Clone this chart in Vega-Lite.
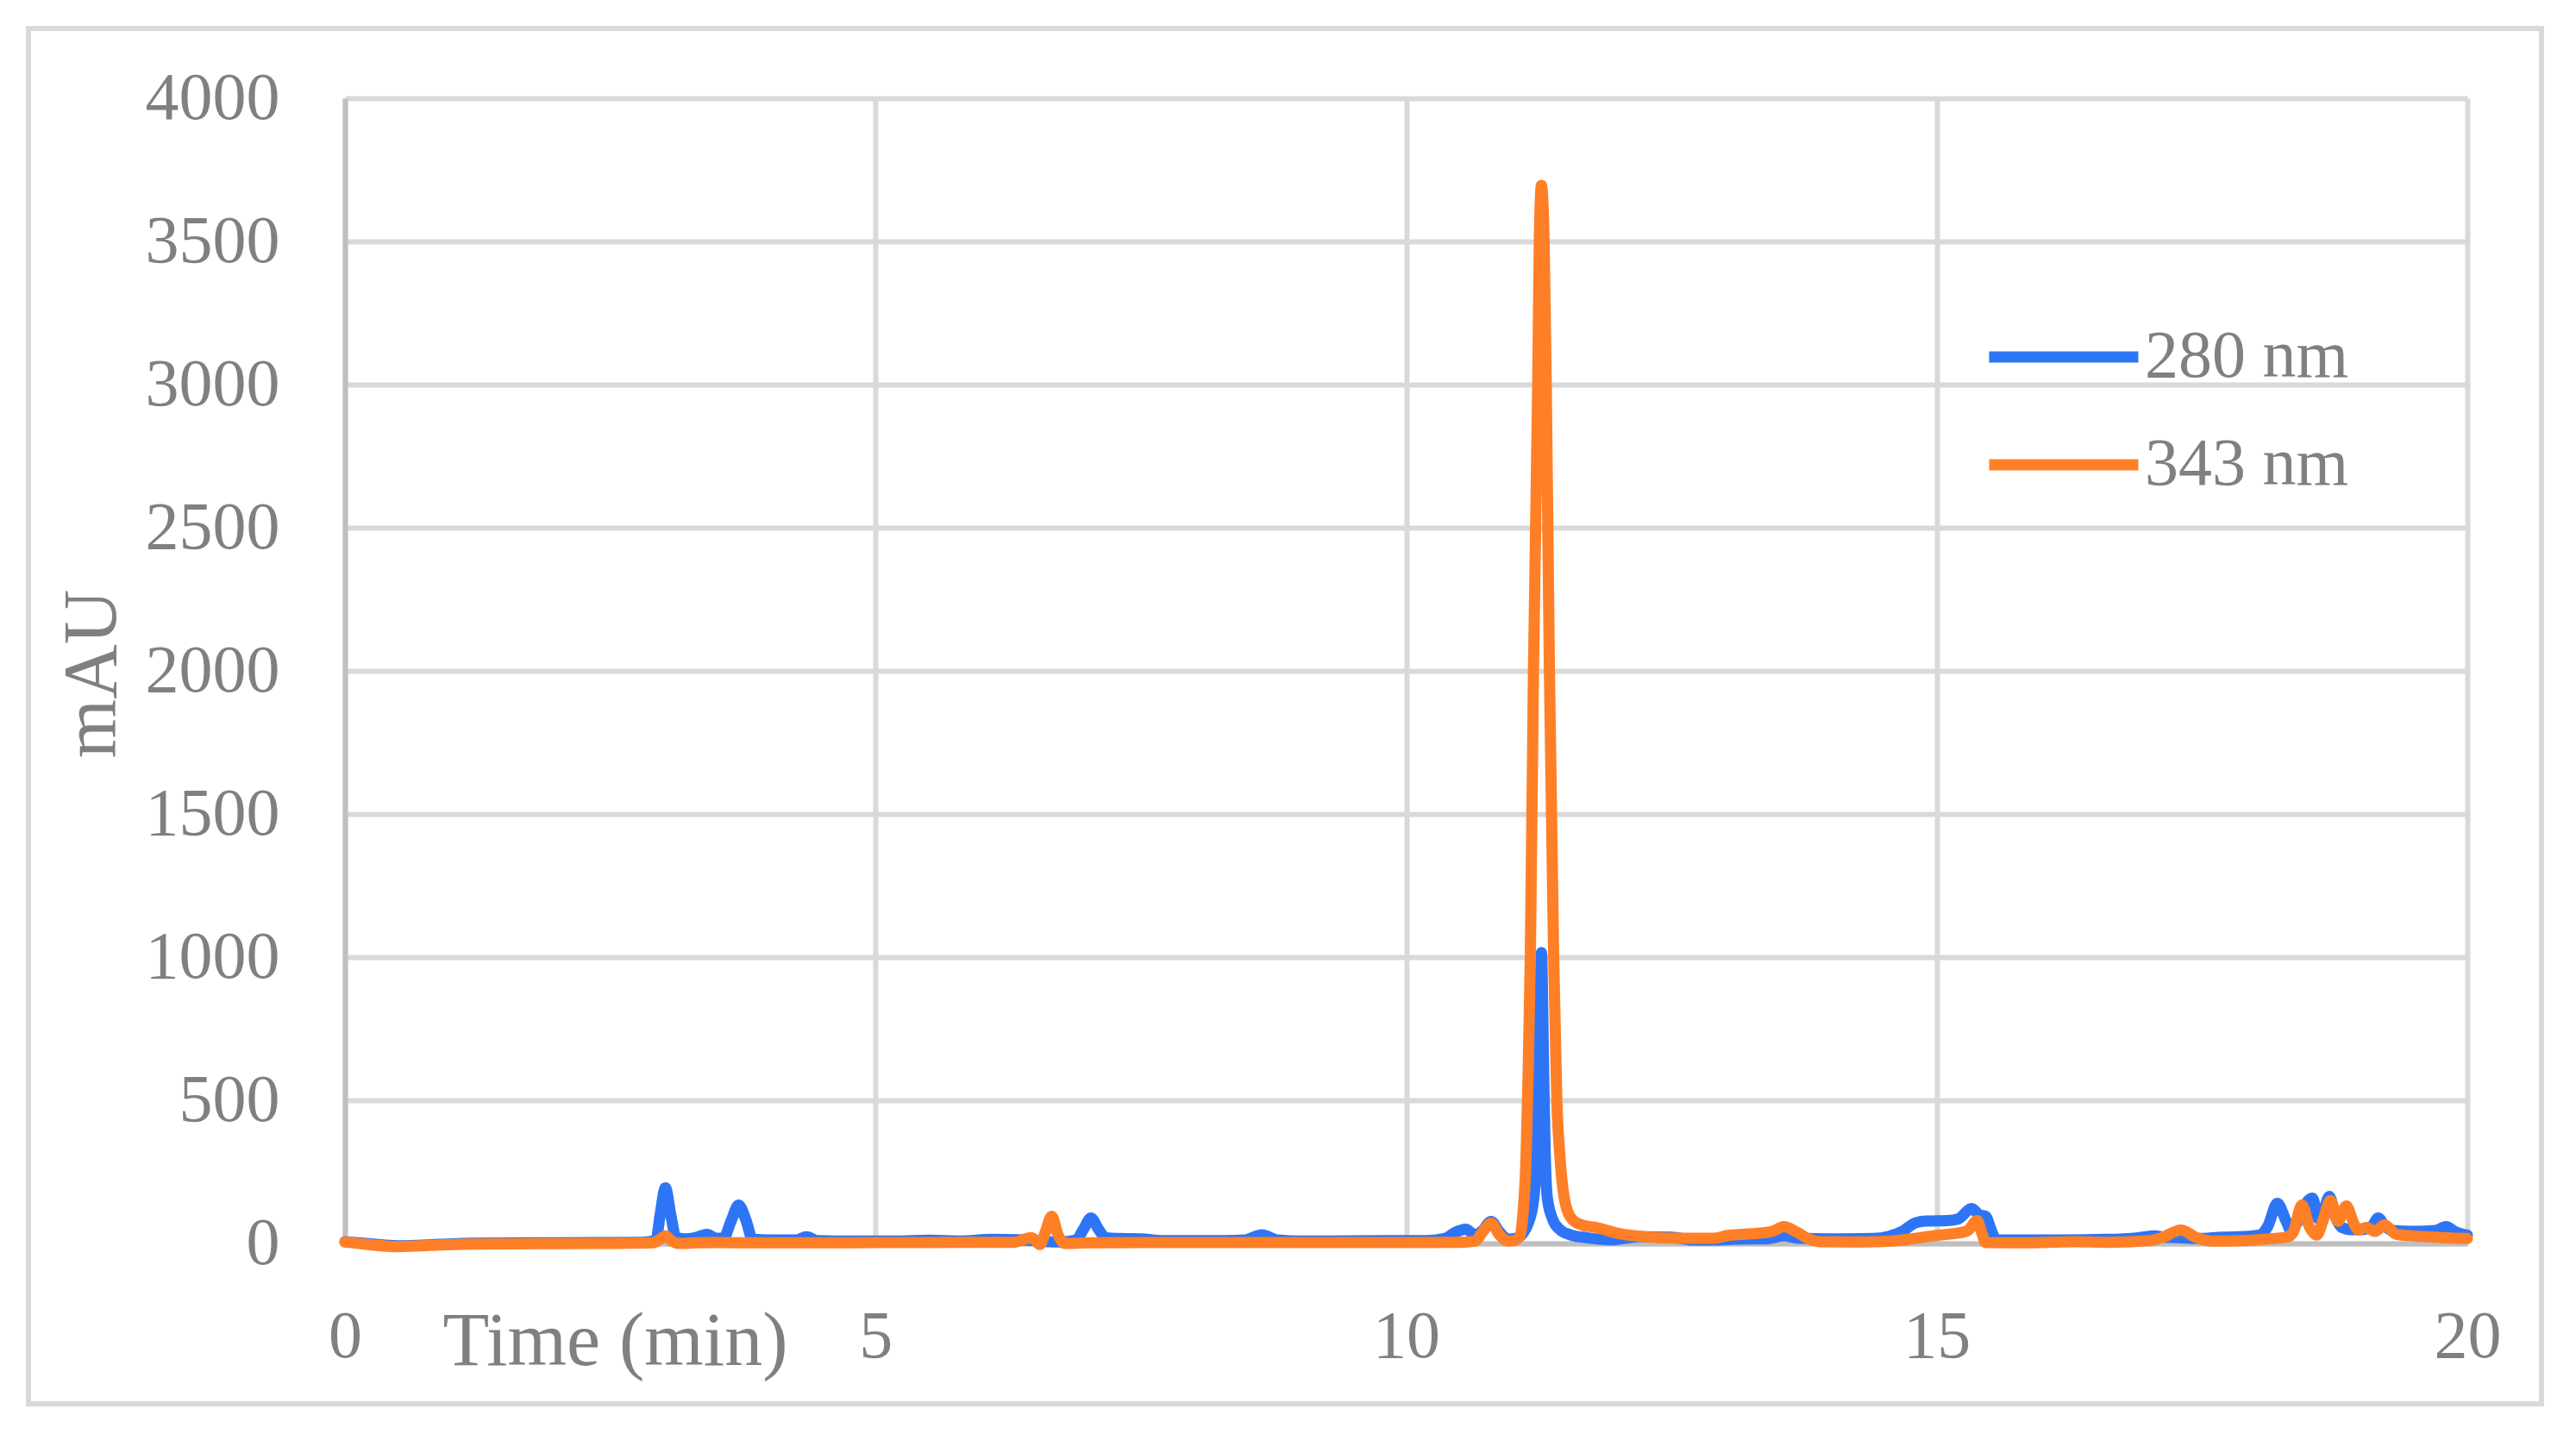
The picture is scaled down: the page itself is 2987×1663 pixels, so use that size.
{
  "$schema": "https://vega.github.io/schema/vega-lite/v6.json",
  "autosize": "none",
  "width": 2461,
  "height": 1328,
  "padding": {"left": 400, "top": 114, "right": 126, "bottom": 221},
  "background": "white",
  "config": {
    "view": {"stroke": null},
    "font": "Liberation Serif",
    "axis": {
      "grid": true,
      "gridColor": "#d9d9d9",
      "gridWidth": 6,
      "domainColor": "#bfbfbf",
      "domainWidth": 6,
      "ticks": false,
      "tickSize": 0,
      "format": "d",
      "labelFont": "Liberation Serif",
      "labelFontSize": 78,
      "labelColor": "#808080",
      "titleFont": "Liberation Serif",
      "titleFontSize": 88,
      "titleFontWeight": "normal",
      "titleColor": "#808080",
      "labelFlush": false,
      "labelOverlap": false
    }
  },
  "datasets": {
    "s280": [
      {"t":0,"v":6,"s":"280 nm"},{"t":0.2,"v":0,"s":"280 nm"},{"t":0.5,"v":-8,"s":"280 nm"},{"t":0.9,"v":-3,"s":"280 nm"},
      {"t":1.2,"v":1,"s":"280 nm"},{"t":1.8,"v":2,"s":"280 nm"},{"t":2.4,"v":3,"s":"280 nm"},{"t":2.8,"v":4,"s":"280 nm"},
      {"t":2.93,"v":10,"s":"280 nm"},{"t":2.97,"v":100,"s":"280 nm"},{"t":3.02,"v":194,"s":"280 nm"},{"t":3.07,"v":100,"s":"280 nm"},
      {"t":3.12,"v":20,"s":"280 nm"},{"t":3.2,"v":16,"s":"280 nm"},{"t":3.3,"v":20,"s":"280 nm"},{"t":3.41,"v":32,"s":"280 nm"},
      {"t":3.5,"v":18,"s":"280 nm"},{"t":3.57,"v":20,"s":"280 nm"},{"t":3.64,"v":80,"s":"280 nm"},{"t":3.71,"v":134,"s":"280 nm"},
      {"t":3.78,"v":80,"s":"280 nm"},{"t":3.84,"v":15,"s":"280 nm"},{"t":4.0,"v":12,"s":"280 nm"},{"t":4.25,"v":12,"s":"280 nm"},
      {"t":4.35,"v":23,"s":"280 nm"},{"t":4.45,"v":10,"s":"280 nm"},{"t":4.8,"v":8,"s":"280 nm"},{"t":5.2,"v":8,"s":"280 nm"},
      {"t":5.51,"v":11,"s":"280 nm"},{"t":5.8,"v":8,"s":"280 nm"},{"t":6.1,"v":14,"s":"280 nm"},{"t":6.4,"v":12,"s":"280 nm"},
      {"t":6.55,"v":8,"s":"280 nm"},{"t":6.75,"v":5,"s":"280 nm"},{"t":6.89,"v":12,"s":"280 nm"},{"t":6.96,"v":50,"s":"280 nm"},
      {"t":7.03,"v":89,"s":"280 nm"},{"t":7.1,"v":50,"s":"280 nm"},{"t":7.17,"v":20,"s":"280 nm"},{"t":7.3,"v":17,"s":"280 nm"},
      {"t":7.5,"v":16,"s":"280 nm"},{"t":7.7,"v":10,"s":"280 nm"},{"t":8.0,"v":10,"s":"280 nm"},{"t":8.3,"v":10,"s":"280 nm"},
      {"t":8.48,"v":12,"s":"280 nm"},{"t":8.64,"v":30,"s":"280 nm"},{"t":8.79,"v":12,"s":"280 nm"},{"t":9.0,"v":8,"s":"280 nm"},
      {"t":9.5,"v":9,"s":"280 nm"},{"t":9.9,"v":10,"s":"280 nm"},{"t":10.2,"v":10,"s":"280 nm"},{"t":10.37,"v":18,"s":"280 nm"},
      {"t":10.47,"v":40,"s":"280 nm"},{"t":10.56,"v":50,"s":"280 nm"},{"t":10.65,"v":30,"s":"280 nm"},{"t":10.72,"v":45,"s":"280 nm"},
      {"t":10.8,"v":77,"s":"280 nm"},{"t":10.88,"v":40,"s":"280 nm"},{"t":10.96,"v":15,"s":"280 nm"},{"t":11.05,"v":20,"s":"280 nm"},
      {"t":11.1,"v":35,"s":"280 nm"},{"t":11.15,"v":70,"s":"280 nm"},{"t":11.2,"v":150,"s":"280 nm"},{"t":11.23,"v":320,"s":"280 nm"},
      {"t":11.25,"v":620,"s":"280 nm"},{"t":11.275,"v":1016,"s":"280 nm"},{"t":11.295,"v":620,"s":"280 nm"},{"t":11.31,"v":320,"s":"280 nm"},
      {"t":11.33,"v":160,"s":"280 nm"},{"t":11.38,"v":85,"s":"280 nm"},{"t":11.45,"v":48,"s":"280 nm"},{"t":11.55,"v":30,"s":"280 nm"},
      {"t":11.7,"v":20,"s":"280 nm"},{"t":11.93,"v":13,"s":"280 nm"},{"t":12.2,"v":23,"s":"280 nm"},{"t":12.5,"v":22,"s":"280 nm"},
      {"t":12.7,"v":12,"s":"280 nm"},{"t":12.9,"v":12,"s":"280 nm"},{"t":13.1,"v":15,"s":"280 nm"},{"t":13.4,"v":16,"s":"280 nm"},
      {"t":13.56,"v":26,"s":"280 nm"},{"t":13.7,"v":18,"s":"280 nm"},{"t":14.0,"v":16,"s":"280 nm"},{"t":14.4,"v":17,"s":"280 nm"},
      {"t":14.55,"v":25,"s":"280 nm"},{"t":14.67,"v":41,"s":"280 nm"},{"t":14.8,"v":72,"s":"280 nm"},{"t":14.9,"v":78,"s":"280 nm"},
      {"t":15.1,"v":80,"s":"280 nm"},{"t":15.2,"v":85,"s":"280 nm"},{"t":15.33,"v":122,"s":"280 nm"},{"t":15.4,"v":100,"s":"280 nm"},
      {"t":15.46,"v":95,"s":"280 nm"},{"t":15.52,"v":40,"s":"280 nm"},{"t":15.56,"v":12,"s":"280 nm"},{"t":15.8,"v":12,"s":"280 nm"},
      {"t":16.2,"v":12,"s":"280 nm"},{"t":16.6,"v":14,"s":"280 nm"},{"t":16.9,"v":20,"s":"280 nm"},{"t":17.05,"v":26,"s":"280 nm"},
      {"t":17.15,"v":22,"s":"280 nm"},{"t":17.3,"v":20,"s":"280 nm"},{"t":17.45,"v":17,"s":"280 nm"},{"t":17.7,"v":22,"s":"280 nm"},
      {"t":17.9,"v":24,"s":"280 nm"},{"t":18.05,"v":30,"s":"280 nm"},{"t":18.12,"v":60,"s":"280 nm"},{"t":18.21,"v":140,"s":"280 nm"},
      {"t":18.29,"v":80,"s":"280 nm"},{"t":18.34,"v":45,"s":"280 nm"},{"t":18.42,"v":90,"s":"280 nm"},{"t":18.48,"v":140,"s":"280 nm"},
      {"t":18.54,"v":158,"s":"280 nm"},{"t":18.6,"v":85,"s":"280 nm"},{"t":18.65,"v":120,"s":"280 nm"},{"t":18.7,"v":164,"s":"280 nm"},
      {"t":18.76,"v":90,"s":"280 nm"},{"t":18.82,"v":55,"s":"280 nm"},{"t":18.9,"v":48,"s":"280 nm"},{"t":19.0,"v":48,"s":"280 nm"},
      {"t":19.1,"v":60,"s":"280 nm"},{"t":19.16,"v":89,"s":"280 nm"},{"t":19.22,"v":62,"s":"280 nm"},{"t":19.3,"v":45,"s":"280 nm"},
      {"t":19.5,"v":42,"s":"280 nm"},{"t":19.7,"v":45,"s":"280 nm"},{"t":19.8,"v":59,"s":"280 nm"},{"t":19.88,"v":42,"s":"280 nm"},
      {"t":20.0,"v":29,"s":"280 nm"}
    ],
    "s343": [
      {"t":0,"v":5,"s":"343 nm"},{"t":0.2,"v":-3,"s":"343 nm"},{"t":0.5,"v":-11,"s":"343 nm"},{"t":0.9,"v":-5,"s":"343 nm"},
      {"t":1.2,"v":-2,"s":"343 nm"},{"t":1.8,"v":-1,"s":"343 nm"},{"t":2.4,"v":0,"s":"343 nm"},{"t":2.9,"v":2,"s":"343 nm"},
      {"t":2.97,"v":15,"s":"343 nm"},{"t":3.02,"v":26,"s":"343 nm"},{"t":3.08,"v":8,"s":"343 nm"},{"t":3.15,"v":0,"s":"343 nm"},
      {"t":3.3,"v":2,"s":"343 nm"},{"t":3.5,"v":3,"s":"343 nm"},{"t":4.0,"v":2,"s":"343 nm"},{"t":4.5,"v":2,"s":"343 nm"},
      {"t":5.0,"v":3,"s":"343 nm"},{"t":5.5,"v":3,"s":"343 nm"},{"t":6.0,"v":4,"s":"343 nm"},{"t":6.3,"v":4,"s":"343 nm"},
      {"t":6.47,"v":20,"s":"343 nm"},{"t":6.55,"v":-4,"s":"343 nm"},{"t":6.6,"v":40,"s":"343 nm"},{"t":6.66,"v":95,"s":"343 nm"},
      {"t":6.72,"v":30,"s":"343 nm"},{"t":6.78,"v":0,"s":"343 nm"},{"t":7.0,"v":2,"s":"343 nm"},{"t":7.5,"v":3,"s":"343 nm"},
      {"t":8.0,"v":3,"s":"343 nm"},{"t":8.5,"v":3,"s":"343 nm"},{"t":9.0,"v":3,"s":"343 nm"},{"t":9.5,"v":3,"s":"343 nm"},
      {"t":10.0,"v":3,"s":"343 nm"},{"t":10.5,"v":4,"s":"343 nm"},{"t":10.65,"v":8,"s":"343 nm"},{"t":10.72,"v":40,"s":"343 nm"},
      {"t":10.8,"v":71,"s":"343 nm"},{"t":10.88,"v":30,"s":"343 nm"},{"t":10.96,"v":8,"s":"343 nm"},{"t":11.02,"v":10,"s":"343 nm"},
      {"t":11.07,"v":25,"s":"343 nm"},{"t":11.1,"v":100,"s":"343 nm"},{"t":11.13,"v":300,"s":"343 nm"},{"t":11.15,"v":600,"s":"343 nm"},
      {"t":11.17,"v":1000,"s":"343 nm"},{"t":11.2,"v":2000,"s":"343 nm"},{"t":11.24,"v":3000,"s":"343 nm"},{"t":11.255,"v":3500,"s":"343 nm"},
      {"t":11.275,"v":3696,"s":"343 nm"},{"t":11.3,"v":3500,"s":"343 nm"},{"t":11.32,"v":3000,"s":"343 nm"},{"t":11.35,"v":2000,"s":"343 nm"},
      {"t":11.39,"v":1000,"s":"343 nm"},{"t":11.42,"v":500,"s":"343 nm"},{"t":11.45,"v":300,"s":"343 nm"},{"t":11.5,"v":140,"s":"343 nm"},
      {"t":11.57,"v":82,"s":"343 nm"},{"t":11.65,"v":65,"s":"343 nm"},{"t":11.8,"v":55,"s":"343 nm"},{"t":12.0,"v":35,"s":"343 nm"},
      {"t":12.3,"v":22,"s":"343 nm"},{"t":12.6,"v":18,"s":"343 nm"},{"t":12.9,"v":18,"s":"343 nm"},{"t":13.03,"v":28,"s":"343 nm"},
      {"t":13.17,"v":32,"s":"343 nm"},{"t":13.3,"v":35,"s":"343 nm"},{"t":13.45,"v":42,"s":"343 nm"},{"t":13.56,"v":59,"s":"343 nm"},
      {"t":13.68,"v":40,"s":"343 nm"},{"t":13.8,"v":15,"s":"343 nm"},{"t":13.9,"v":6,"s":"343 nm"},{"t":14.3,"v":5,"s":"343 nm"},
      {"t":14.6,"v":9,"s":"343 nm"},{"t":14.84,"v":20,"s":"343 nm"},{"t":15.0,"v":28,"s":"343 nm"},{"t":15.11,"v":32,"s":"343 nm"},
      {"t":15.29,"v":44,"s":"343 nm"},{"t":15.38,"v":80,"s":"343 nm"},{"t":15.43,"v":30,"s":"343 nm"},{"t":15.46,"v":3,"s":"343 nm"},
      {"t":15.8,"v":2,"s":"343 nm"},{"t":16.3,"v":6,"s":"343 nm"},{"t":16.6,"v":4,"s":"343 nm"},{"t":17.0,"v":10,"s":"343 nm"},
      {"t":17.12,"v":20,"s":"343 nm"},{"t":17.3,"v":47,"s":"343 nm"},{"t":17.45,"v":20,"s":"343 nm"},{"t":17.6,"v":8,"s":"343 nm"},
      {"t":17.9,"v":10,"s":"343 nm"},{"t":18.1,"v":15,"s":"343 nm"},{"t":18.3,"v":22,"s":"343 nm"},{"t":18.36,"v":40,"s":"343 nm"},
      {"t":18.44,"v":134,"s":"343 nm"},{"t":18.51,"v":60,"s":"343 nm"},{"t":18.58,"v":29,"s":"343 nm"},{"t":18.64,"v":80,"s":"343 nm"},
      {"t":18.71,"v":150,"s":"343 nm"},{"t":18.78,"v":77,"s":"343 nm"},{"t":18.86,"v":131,"s":"343 nm"},{"t":18.93,"v":70,"s":"343 nm"},
      {"t":18.97,"v":47,"s":"343 nm"},{"t":19.05,"v":56,"s":"343 nm"},{"t":19.13,"v":42,"s":"343 nm"},{"t":19.22,"v":65,"s":"343 nm"},
      {"t":19.33,"v":32,"s":"343 nm"},{"t":19.5,"v":26,"s":"343 nm"},{"t":19.7,"v":22,"s":"343 nm"},{"t":19.9,"v":18,"s":"343 nm"},
      {"t":20.0,"v":17,"s":"343 nm"}
    ]
  },
  "layer": [
    {
      "data": {"values": [{}]},
      "mark": {"type": "rect", "fill": null, "fillOpacity": 0, "stroke": "#d9d9d9", "strokeWidth": 6, "clip": false},
      "encoding": {
        "x": {"value": -367},
        "x2": {"value": 2547},
        "y": {"value": -81},
        "y2": {"value": 1514}
      }
    },
    {
      "data": {"name": "s280"},
      "mark": {"type": "line", "strokeWidth": 13, "strokeJoin": "round", "strokeCap": "round", "interpolate": "monotone"},
      "encoding": {
        "x": {
          "field": "t", "type": "quantitative",
          "scale": {"domain": [0, 20], "nice": false, "zero": false},
          "axis": {
            "values": [0, 5, 10, 15, 20],
            "format": "d",
            "labelPadding": 131,
            "labelBaseline": "alphabetic",
            "labelAlign": "center",
            "title": "Time (min)",
            "titleX": 313,
            "titleY": 140,
            "titleAlign": "center",
            "titleBaseline": "alphabetic",
            "titleAnchor": null
          }
        },
        "y": {
          "field": "v", "type": "quantitative",
          "scale": {"domain": [0, 4000], "nice": false},
          "axis": {
            "values": [0, 500, 1000, 1500, 2000, 2500, 3000, 3500, 4000],
            "format": "d",
            "labelPadding": 76,
            "title": "mAU",
            "titleAngle": 270,
            "titleX": -267,
            "titleY": 667,
            "titleAlign": "center",
            "titleBaseline": "alphabetic"
          }
        },
        "color": {
          "field": "s", "type": "nominal",
          "scale": {"domain": ["280 nm", "343 nm"], "range": ["#2E75F6", "#FF7F27"]},
          "legend": {
            "orient": "none",
            "legendX": 1900,
            "legendY": 261,
            "title": null,
            "padding": 0,
            "symbolType": "stroke",
            "symbolSize": 29929,
            "symbolStrokeWidth": 13,
            "clipHeight": 78,
            "rowPadding": 47,
            "labelOffset": 1,
            "labelFont": "Liberation Serif",
            "labelFontSize": 78,
            "labelColor": "#808080",
            "labelLimit": 0
          }
        }
      }
    },
    {
      "data": {"name": "s343"},
      "mark": {"type": "line", "strokeWidth": 13, "strokeJoin": "round", "strokeCap": "round", "interpolate": "monotone"},
      "encoding": {
        "x": {"field": "t", "type": "quantitative"},
        "y": {"field": "v", "type": "quantitative"},
        "color": {"field": "s", "type": "nominal"}
      }
    }
  ]
}
